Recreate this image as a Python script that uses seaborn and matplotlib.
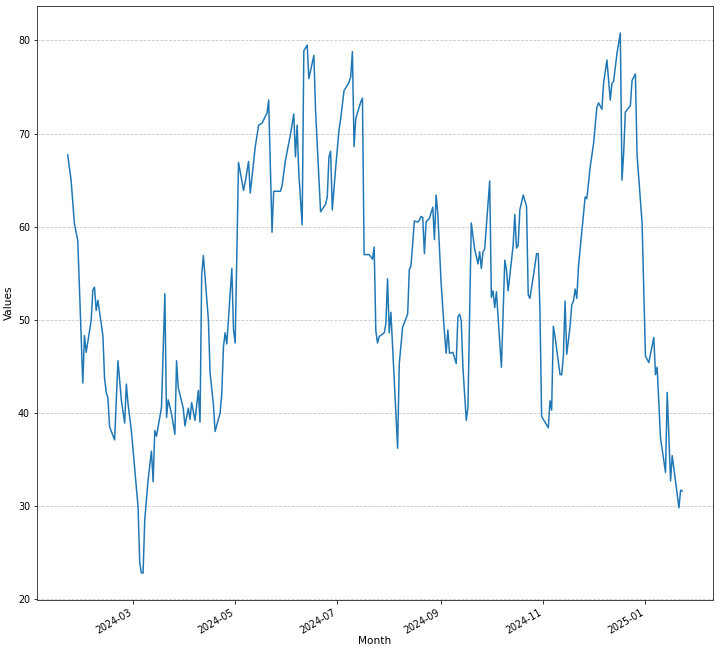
import pandas as pd
import seaborn as sns
import matplotlib.pyplot as plt
import matplotlib.dates as mdates

# day offsets from the first date, and the value on that day
start_date = "2024-01-22"
day = [0, 2, 4, 6, 9, 10, 11, 14, 15, 16, 17, 18, 21, 22, 23, 24, 25, 28, 30, 32,
       34, 35, 36, 38, 42, 43, 44, 45, 46, 48, 50, 51, 52, 53, 56, 58, 59, 60, 62, 64,
       65, 66, 69, 70, 72, 73, 74, 76, 78, 79, 80, 81, 84, 85, 87, 88, 91, 92, 93, 94,
       95, 98, 99, 100, 102, 105, 106, 108, 109, 111, 112, 114, 116, 119, 120, 122, 123, 127, 128, 130,
       133, 135, 136, 137, 138, 140, 141, 143, 144, 147, 148, 151, 154, 155, 156, 157, 158, 160, 162, 163,
       165, 168, 169, 170, 171, 172, 175, 176, 177, 180, 182, 183, 184, 185, 186, 189, 190, 191, 192, 193,
       197, 198, 200, 203, 204, 205, 207, 209, 210, 211, 212, 213, 214, 216, 218, 219, 220, 221, 223, 225,
       226, 227, 228, 230, 232, 233, 234, 235, 236, 238, 239, 241, 243, 245, 246, 247, 248, 249, 252, 253,
       254, 255, 256, 259, 261, 262, 263, 266, 267, 268, 269, 270, 272, 274, 275, 276, 278, 280, 281, 282,
       283, 287, 288, 289, 290, 291, 294, 295, 296, 297, 298, 300, 301, 302, 303, 304, 305, 307, 309, 310,
       312, 314, 316, 317, 319, 320, 322, 324, 325, 326, 328, 330, 331, 332, 333, 336, 337, 339, 340, 343,
       345, 347, 350, 351, 352, 354, 357, 358, 360, 361, 365, 366, 367]
values = [67.7, 65.0, 60.3, 58.5, 43.2, 48.3, 46.5, 49.9, 53.2, 53.5, 51.0, 52.1, 48.3, 43.7, 42.2, 41.6, 38.5, 37.1, 45.6, 41.4,
          38.9, 43.1, 41.0, 38.1, 29.9, 23.9, 22.8, 22.8, 28.5, 32.8, 35.9, 32.6, 38.1, 37.5, 40.6, 52.8, 39.5, 41.4, 39.9, 37.7,
          45.6, 42.7, 40.5, 38.6, 40.5, 39.3, 41.1, 39.2, 42.4, 39.0, 54.8, 56.9, 50.0, 44.3, 40.9, 38.0, 40.0, 42.1, 47.1, 48.6,
          47.4, 55.5, 48.9, 47.5, 66.9, 63.9, 64.8, 67.0, 63.6, 67.0, 68.6, 70.9, 71.1, 72.2, 73.6, 59.4, 63.8, 63.8, 64.4, 67.1,
          69.9, 72.1, 67.5, 70.9, 65.7, 60.2, 78.9, 79.5, 75.9, 78.4, 72.5, 61.6, 62.4, 63.2, 67.5, 68.1, 61.8, 66.3, 70.4, 71.6,
          74.6, 75.5, 76.1, 78.8, 68.6, 71.6, 73.4, 73.8, 57.0, 57.0, 56.5, 57.8, 48.8, 47.5, 48.2, 48.6, 49.6, 54.4, 48.6, 50.8,
          36.2, 45.3, 49.2, 50.6, 55.4, 55.8, 60.6, 60.5, 60.7, 61.1, 61.0, 57.1, 60.5, 60.9, 62.1, 58.6, 63.4, 61.4, 53.9, 48.6,
          46.4, 48.9, 46.4, 46.5, 45.3, 50.3, 50.6, 49.9, 44.9, 39.2, 40.6, 60.4, 57.6, 56.0, 57.3, 55.5, 57.3, 57.6, 64.9, 52.4,
          53.1, 51.3, 53.0, 44.9, 56.4, 55.4, 53.1, 58.0, 61.3, 57.7, 58.0, 61.8, 63.4, 62.2, 52.7, 52.3, 54.6, 57.1, 57.1, 51.1,
          39.6, 38.4, 41.3, 40.3, 49.3, 48.2, 44.1, 44.1, 46.1, 52.0, 46.3, 49.3, 51.6, 52.0, 53.3, 52.3, 55.7, 59.5, 63.2, 63.0,
          66.4, 68.9, 72.8, 73.3, 72.6, 75.4, 77.9, 73.6, 75.4, 75.6, 78.6, 80.8, 65.0, 67.9, 72.3, 73.0, 75.7, 76.4, 67.7, 60.4,
          46.1, 45.4, 48.1, 44.1, 44.9, 37.3, 33.6, 42.2, 32.7, 35.4, 29.8, 31.7, 31.6]

df = pd.DataFrame({
    "Month": pd.Timestamp(start_date) + pd.to_timedelta(day, unit="D"),
    "Values": values,
})

plt.rcParams["font.size"] = 9.5
plt.rcParams["axes.labelsize"] = 10.5

# 10 x 9 inch figure drawn at 72 dpi -> 720 x 650 px
fig, ax = plt.subplots(figsize=(10, 650 / 72), dpi=72)
sns.lineplot(data=df, x="Month", y="Values", ax=ax, color="#1f77b4", linewidth=1.5)

ax.xaxis.set_major_locator(mdates.MonthLocator(bymonth=[1, 3, 5, 7, 9, 11]))
ax.xaxis.set_major_formatter(mdates.DateFormatter("%Y-%m"))
ax.grid(axis="y", linestyle="--", alpha=0.7)
ax.xaxis.labelpad = 1
for sp in ax.spines.values():
    sp.set_color("#444444")
    sp.set_linewidth(1.0)
fig.autofmt_xdate()

fig.subplots_adjust(left=37 / 720, right=713 / 720, bottom=1 - 600 / 650, top=1 - 6 / 650)
plt.savefig("out.png")
